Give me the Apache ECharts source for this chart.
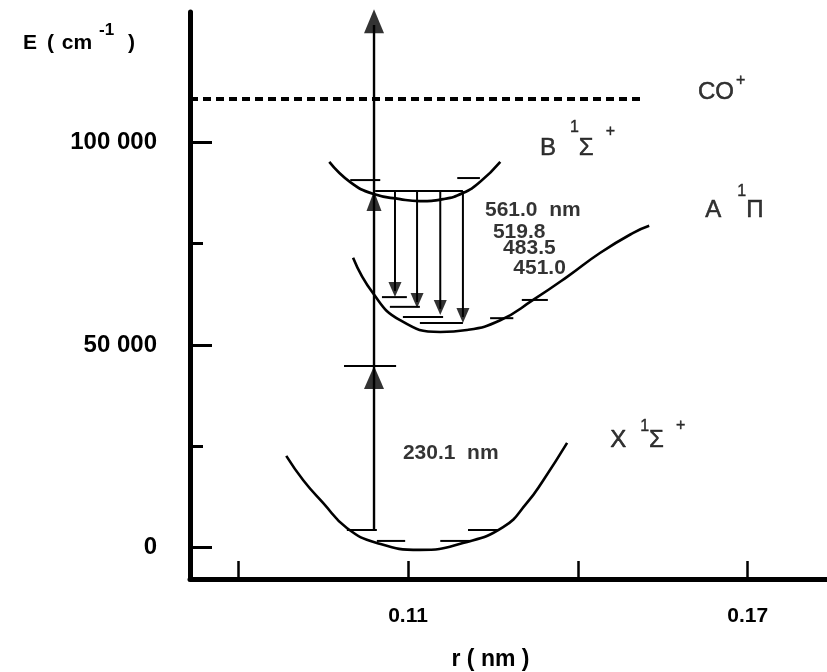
<!DOCTYPE html>
<html><head><meta charset="utf-8">
<script src="https://cdn.jsdelivr.net/npm/echarts@6/dist/echarts.min.js"></script>
<style>html,body{margin:0;padding:0;background:#fff}#c{width:827px;height:672px}</style>
</head><body><div id="c"></div>
<script>
// ---- axes ----
const xTicks = [0.08, 0.11, 0.14, 0.17];
const xTickLabels = [0.11, 0.17];
const yTickLabels = [0, 50000, 100000];
const yMinorTicks = [25000, 75000];

// ---- potential curves (r in nm, E in cm-1) ----
const xStateR = [0.0885, 0.0915, 0.0950, 0.0992, 0.1045, 0.1121, 0.1197, 0.1268, 0.1310, 0.1339, 0.1381];
const xStateE = [22600, 16600, 11000, 4800, 1100, -600, 1100, 5000, 11000, 16600, 25800];
const aStateR = [0.1003, 0.1038, 0.1086, 0.1157, 0.1204, 0.1263, 0.1321, 0.1381, 0.1439, 0.1497, 0.1526];
const aStateE = [71500, 62800, 56100, 53200, 53700, 56100, 61100, 66800, 72700, 77600, 79400];
const bStateR = [0.0961, 0.0998, 0.1038, 0.1086, 0.1121, 0.1162, 0.1197, 0.1227, 0.1263];
const bStateE = [95200, 90200, 87300, 86000, 85500, 86000, 87500, 90200, 95200];

// ionisation limit CO+
const coIonE = 110700;
const coIonR = [0.0715, 0.1513];

// vibrational levels [E, rStart, rEnd]
const xLevels = [[1600, 0.1045, 0.1095], [1600, 0.1157, 0.1210], [4300, 0.0992, 0.1045], [4300, 0.1206, 0.1259]];
const virtualLevel = [[44800, 0.0987, 0.1079]];
const aLevels = [[61800, 0.1054, 0.1098], [59400, 0.1068, 0.1121], [56900, 0.1091, 0.1162], [55400, 0.1121, 0.1197], [61100, 0.1301, 0.1347], [56600, 0.1245, 0.1286]];
const bLevels = [[88000, 0.1042, 0.1197], [90700, 0.0998, 0.1051], [91200, 0.1187, 0.1227]];

// excitation (pump) arrow
const pumpR = 0.1040;
const pumpFromE = 4300;
const pumpToE = 129000;
const pumpHeadE = [44800, 88000, 132900];

// emission arrows
const emitR = [0.1077, 0.1116, 0.1157, 0.1197];
const emitTopE = 88000;
const emitTipE = [61800, 59100, 57400, 55400];

// annotations
const emitLabels = ['561.0  nm', '519.8', '483.5', '451.0'];
const pumpLabel = '230.1  nm';

const FONT = '"Liberation Sans", Arial, Helvetica, sans-serif';
const chart = echarts.init(document.getElementById('c'), null, {renderer: 'canvas'});
const pts = (rs, es) => rs.map((r, i) => [r, es[i]]);
const lineSeries = (data, w, extra) => Object.assign({
  type: 'line', data, symbol: 'none', silent: true, clip: false, animation: false,
  lineStyle: {color: '#000', width: w}
}, extra || {});

const series = [];
series.push(lineSeries(pts(xStateR, xStateE), 2.6, {smooth: 0.5}));
series.push(lineSeries(pts(aStateR, aStateE), 2.6, {smooth: 0.5}));
series.push(lineSeries(pts(bStateR, bStateE), 2.6, {smooth: 0.5}));
series.push(lineSeries([[coIonR[0], coIonE], [coIonR[1], coIonE]], 4, {lineStyle: {color: '#000', width: 4, type: [8, 5]}}));
[].concat(xLevels, virtualLevel, aLevels, bLevels).forEach(l => {
  series.push(lineSeries([[l[1], l[0]], [l[2], l[0]]], 2));
});
series.push(lineSeries([[pumpR, pumpFromE], [pumpR, pumpToE]], 2.4));
emitR.forEach((r, i) => series.push(lineSeries([[r, emitTopE], [r, emitTipE[i] + 1500]], 2)));

const headUp = [[20, 23], [15, 20], [20, 24]];
series.push({
  type: 'scatter', silent: true, clip: false, animation: false,
  data: pumpHeadE.map((e, i) => ({value: [pumpR, e], symbolSize: headUp[i], symbolOffset: [0, headUp[i][1] / 2]})),
  symbol: 'triangle', itemStyle: {color: '#000'}
});
series.push({
  type: 'scatter', silent: true, clip: false, animation: false,
  data: emitTipE.map((e, i) => ({value: [emitR[i], e]})),
  symbol: 'triangle', symbolSize: [13, 15], symbolRotate: 180, symbolOffset: [0, -7.5],
  itemStyle: {color: '#000'}
});

const annoNum = [
  [0.1236, 83300, emitLabels[0]],
  [0.1250, 77900, emitLabels[1]],
  [0.1268, 73900, emitLabels[2]],
  [0.1286, 69000, emitLabels[3]],
  [0.1091, 23300, pumpLabel]
];
series.push({
  type: 'scatter', silent: true, clip: false, animation: false, symbolSize: 0,
  data: annoNum.map(a => ({value: [a[0], a[1]], label: {formatter: a[2]}})),
  label: {show: true, position: 'right', distance: 0, fontFamily: FONT, fontWeight: 'bold', fontSize: 21, color: '#000'}
});

const sup = (raise, left) => ({fontFamily: FONT, fontSize: 16, color: '#000', lineHeight: 16,
  textBorderColor: '#000', textBorderWidth: 0.4,
  verticalAlign: 'middle', padding: [0, 0, raise * 2, left]});
const richState = {
  m: {fontFamily: FONT, fontSize: 24, color: '#000', lineHeight: 26, verticalAlign: 'middle',
    textBorderColor: '#000', textBorderWidth: 0.5},
  c: sup(12, 2),
  b1: sup(20, 14), b2: sup(16, 12),
  a1: sup(18, 16),
  x1: sup(13, 14), x2: sup(14, 12)
};
const stateLabels = [
  [0.1612, 112400, '{m|CO}{c|+}'],
  [0.1333, 98600, '{m|B}{b1|1}{m|Σ}{b2|+}'],
  [0.1625, 83300, '{m|A}{a1|1}{m|Π}'],
  [0.1457, 26500, '{m|X}{x1|1}{m|Σ}{x2|+}']
];
series.push({
  type: 'scatter', silent: true, clip: false, animation: false, symbolSize: 0,
  data: stateLabels.map(a => ({value: [a[0], a[1]], label: {formatter: a[2]}})),
  label: {show: true, position: 'right', distance: 0, color: '#000', rich: richState}
});

const axisLabelFont = {fontFamily: FONT, fontWeight: 'bold', color: '#000'};
const nameTok = (left, extra) => Object.assign({fontFamily: FONT, fontWeight: 'bold', fontSize: 21, color: '#000',
  lineHeight: 22, verticalAlign: 'middle', padding: [0, 0, 0, left]}, extra || {});
chart.setOption({
  animation: false,
  backgroundColor: '#fff',
  grid: {left: 190, right: 0, top: 12, bottom: 93, containLabel: false, outerBoundsMode: 'none'},
  xAxis: {
    type: 'value', min: 0.0715, max: 0.184,
    name: 'r ( nm )', nameLocation: 'middle', nameGap: 69,
    nameTextStyle: Object.assign({fontSize: 23, padding: [0, 36, 0, 0]}, axisLabelFont),
    axisLine: {onZero: false, lineStyle: {color: '#000', width: 5}},
    axisTick: {inside: true, length: 18, lineStyle: {color: '#000', width: 2.5}, customValues: xTicks},
    axisLabel: Object.assign({fontSize: 21, margin: 27, customValues: xTickLabels, formatter: v => v.toFixed(2)}, axisLabelFont),
    splitLine: {show: false}
  },
  yAxis: [{
    type: 'value', min: -7800, max: 132200,
    name: '{a|E }{b|( }{c|cm}{s|-1}{d| )}', nameLocation: 'end', nameGap: -31,
    nameTextStyle: {align: 'right', verticalAlign: 'middle', padding: [0, 55, 0, 0], rich: {
      a: nameTok(0), b: nameTok(4), c: nameTok(2), d: nameTok(8),
      s: nameTok(7, {fontSize: 17, lineHeight: 16, padding: [0, 0, 26, 7]})
    }},
    axisLine: {onZero: false, lineStyle: {color: '#000', width: 5}},
    axisTick: {inside: true, length: 22, lineStyle: {color: '#000', width: 3}, customValues: yTickLabels},
    axisLabel: Object.assign({fontSize: 24, margin: 33, customValues: yTickLabels,
      formatter: v => v === 0 ? '0' : (v / 1000) + ' 000'}, axisLabelFont),
    splitLine: {show: false}
  }, {
    type: 'value', min: -7800, max: 132200, position: 'left',
    axisLine: {show: false},
    axisTick: {inside: true, length: 13, lineStyle: {color: '#000', width: 3}, customValues: yMinorTicks},
    axisLabel: {show: false},
    splitLine: {show: false}
  }],
  series
});
</script>
</body></html>
